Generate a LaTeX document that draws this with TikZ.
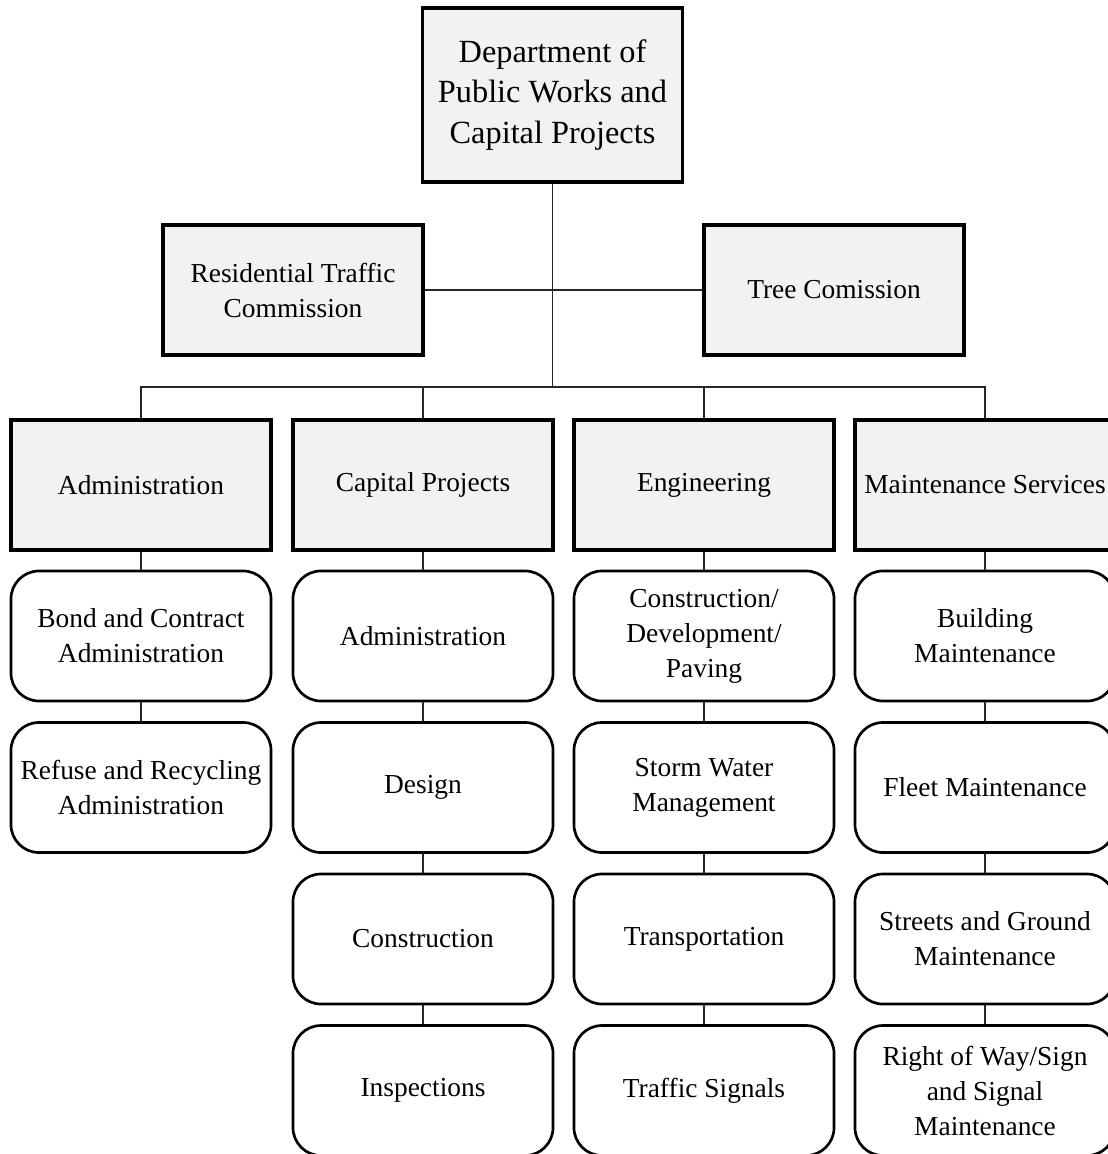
\documentclass[tikz,border=0pt]{standalone}
\usepackage{fontspec}
\setmainfont{Liberation Serif}
\usepackage{xcolor}
\usepackage{tikz}
\usetikzlibrary{positioning}

\definecolor{boxgray}{RGB}{243,241,243}

\begin{document}
\begin{tikzpicture}[
        x=0.025cm, y=-0.025cm,
        every node/.style={font=\fontsize{19.5}{24.9}\selectfont, align=center},
        head/.style={rectangle, draw, line width=2.3pt, fill=boxgray,
                     minimum width=6.5cm, minimum height=3.25cm, inner sep=2pt},
        unit/.style={rectangle, draw, line width=1.9pt, rounded corners=0.7cm,
                     minimum width=6.5cm, minimum height=3.25cm, inner sep=2pt},
        line/.style={draw, line width=1.2pt, black!85}
      ]
        \useasboundingbox (0,0) rectangle (1107,1154);

        % Director
        \node [head, minimum height=4.35cm, font=\fontsize{23}{28.5}\selectfont] (dpw) at (552.5,95)
              {Department of\\Public Works and\\Capital Projects};

        % Commissions
        \node [head] (rtc) at (293,290) {Residential Traffic\\Commission};
        \node [head] (tree) at (834,290) {Tree Comission};

        % Divisions
        \coordinate (bus) at (552.5,387);
        \node [head] (admin) at (141,485) {Administration};
        \node [head] (capital) at (423,485) {Capital Projects};
        \node [head] (eng) at (704,485) {Engineering};
        \node [head] (maint) at (985,485) {Maintenance Services};

        % Administration units
        \node [unit, below=0.45cm of admin] (bond) {Bond and Contract\\Administration};
        \node [unit, below=0.47cm of bond] (refuse) {Refuse and Recycling\\Administration};

        % Capital Projects units
        \node [unit, below=0.45cm of capital] (cpadmin) {Administration};
        \node [unit, below=0.47cm of cpadmin] (design) {Design};
        \node [unit, below=0.47cm of design] (constr) {Construction};
        \node [unit, below=0.47cm of constr] (insp) {Inspections};

        % Engineering units
        \node [unit, below=0.45cm of eng] (paving) {Construction/\\Development/\\Paving};
        \node [unit, below=0.47cm of paving] (storm) {Storm Water\\Management};
        \node [unit, below=0.47cm of storm] (transp) {Transportation};
        \node [unit, below=0.47cm of transp] (signals) {Traffic Signals};

        % Maintenance Services units
        \node [unit, below=0.45cm of maint] (building) {Building\\Maintenance};
        \node [unit, below=0.47cm of building] (fleet) {Fleet Maintenance};
        \node [unit, below=0.47cm of fleet] (streets) {Streets and Ground\\Maintenance};
        \node [unit, below=0.47cm of streets] (row) {Right of Way/Sign\\and Signal\\Maintenance};

        % Lines
        \draw [line] (dpw) -- (bus);
        \draw [line] (rtc) -- (tree);
        \draw [line] (bus) -| (admin);
        \draw [line] (bus) -| (capital);
        \draw [line] (bus) -| (eng);
        \draw [line] (bus) -| (maint);
        \draw [line] (admin) -- (bond);
        \draw [line] (bond) -- (refuse);
        \draw [line] (capital) -- (cpadmin);
        \draw [line] (cpadmin) -- (design);
        \draw [line] (design) -- (constr);
        \draw [line] (constr) -- (insp);
        \draw [line] (eng) -- (paving);
        \draw [line] (paving) -- (storm);
        \draw [line] (storm) -- (transp);
        \draw [line] (transp) -- (signals);
        \draw [line] (maint) -- (building);
        \draw [line] (building) -- (fleet);
        \draw [line] (fleet) -- (streets);
        \draw [line] (streets) -- (row);
      \end{tikzpicture}
\end{document}
